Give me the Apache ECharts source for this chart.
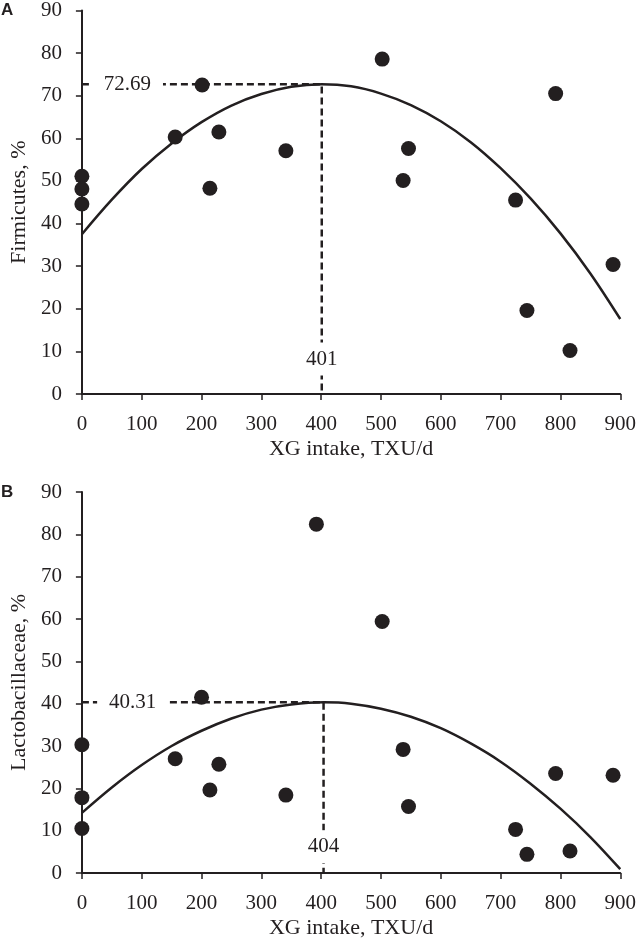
<!DOCTYPE html>
<html><head><meta charset="utf-8">
<script src="https://cdn.jsdelivr.net/npm/echarts@6/dist/echarts.min.js"></script>
<style>html,body{margin:0;padding:0;background:#fff}#c{width:639px;height:940px}</style>
</head><body><div id="c"></div>
<script>
// ---- data ----
const xTicks = [0,100,200,300,400,500,600,700,800,900];
const yTicks = [0,10,20,30,40,50,60,70,80,90];

// Panel A: Firmicutes
const intakeA = [0,0,0,156,201,214,229,341,502,537,546,725,744,792,816,888];
const firmicutes = [51.1,48.1,44.6,60.3,72.5,48.3,61.5,57.1,78.6,50.1,57.6,45.5,19.6,70.5,10.2,30.4];
const fitXA = [0,50,100,150,200,250,300,350,401,450,500,550,600,650,700,750,800,850,900];
const fitYA = [37.5,45.6,52.8,58.8,63.8,67.7,70.4,72.1,72.69,72.2,70.5,67.8,64.0,59.1,53.0,45.9,37.7,28.3,17.6];
const optA = {x: 401, y: 72.69};

// Panel B: Lactobacillaceae
const intakeB = [0,0,0,156,200,214,229,341,392,502,537,546,725,744,792,816,888];
const lactobac = [30.3,17.8,10.5,27.0,41.5,19.6,25.7,18.4,82.4,59.4,29.2,15.7,10.3,4.4,23.5,5.2,23.1];
const fitXB = [0,50,100,150,200,250,300,350,404,450,500,550,600,650,700,750,800,850,900];
const fitYB = [14.2,20.2,25.5,30.0,33.6,36.5,38.6,39.8,40.31,40.0,38.8,36.9,34.2,30.6,26.3,21.1,15.2,8.5,0.9];
const optB = {x: 404, y: 40.31};

const panelLetters = ['A','B'];
const yNames = ['Firmicutes, %','Lactobacillaceae, %'];
const xName = 'XG intake, TXU/d';

// ---- style ----
const INK = '#231f20';
const FONT = 'Liberation Serif';
const FS = 21;
const NFS = 22;
const zip = (a,b) => a.map((v,i)=>[v,b[i]]);

function xAxis(gi){
  return {
    type:'value', gridIndex:gi, min:xTicks[0], max:xTicks[xTicks.length-1], interval:xTicks[1]-xTicks[0],
    name:xName, nameLocation:'middle', nameGap:44,
    nameTextStyle:{fontFamily:FONT,fontSize:NFS,color:INK},
    axisLine:{show:true,onZero:false,lineStyle:{color:INK,width:2}},
    axisTick:{show:true,length:6,lineStyle:{color:INK,width:1.5}},
    axisLabel:{fontFamily:FONT,fontSize:FS,color:INK,margin:20},
    splitLine:{show:false}
  };
}
function yAxis(gi){
  return {
    type:'value', gridIndex:gi, min:yTicks[0], max:yTicks[yTicks.length-1], interval:yTicks[1]-yTicks[0],
    name:yNames[gi], nameLocation:'middle', nameGap:45, nameRotate:90,
    nameTextStyle:{fontFamily:FONT,fontSize:NFS,color:INK},
    axisLine:{show:true,onZero:false,lineStyle:{color:INK,width:2}},
    axisTick:{show:true,length:6,lineStyle:{color:INK,width:1.5}},
    axisLabel:{fontFamily:FONT,fontSize:FS,color:INK,margin:20},
    splitLine:{show:false}
  };
}
function labelSeries(gi, pts){
  return {
    type:'scatter', xAxisIndex:gi, yAxisIndex:gi, symbol:'rect', symbolSize:1, z:5,
    itemStyle:{color:'rgba(0,0,0,0)', opacity:1}, silent:true,
    data: pts.map(p=>({value:[p[0],p[1]], label:{show:true,position:'inside',formatter:p[2],
      fontFamily:FONT,fontSize:FS,color:INK,backgroundColor:'#fff',padding:p[3]}}))
  };
}
function panelSeries(gi, xs, ys, fx, fy, opt, hLabelX, vLabelY){
  return [
    {type:'line', xAxisIndex:gi, yAxisIndex:gi, data:zip(fx,fy), symbol:'none', smooth:0.35,
     lineStyle:{color:INK,width:2.5}, z:2, silent:true},
    {type:'line', xAxisIndex:gi, yAxisIndex:gi, data:[[0,opt.y],[opt.x,opt.y],[opt.x,0]], symbol:'none',
     lineStyle:{color:INK,width:2.5,type:[7,4]}, z:3, silent:true},
    labelSeries(gi, [[hLabelX,opt.y,opt.y.toFixed(2),[2,12]],[opt.x,vLabelY,String(opt.x),[6,2]]]),
    {type:'scatter', xAxisIndex:gi, yAxisIndex:gi, data:zip(xs,ys), symbol:'circle', symbolSize:15,
     itemStyle:{color:INK, opacity:1}, z:6}
  ];
}

const chart = echarts.init(document.getElementById('c'), null, {renderer:'canvas'});
chart.setOption({
  animation:false,
  backgroundColor:'#fff',
  grid:[
    {left:77, top:9, width:546, height:385},
    {left:77, top:492, width:546, height:385}
  ],
  xAxis:[xAxis(0), xAxis(1)],
  yAxis:[yAxis(0), yAxis(1)],
  graphic:[
    {type:'text', left:1, top:2, style:{text:panelLetters[0], font:'bold 17px "Liberation Sans"', fill:INK}},
    {type:'text', left:1, top:484, style:{text:panelLetters[1], font:'bold 17px "Liberation Sans"', fill:INK}}
  ],
  series:[
    ...panelSeries(0, intakeA, firmicutes, fitXA, fitYA, optA, 76, 8.2),
    ...panelSeries(1, intakeB, lactobac, fitXB, fitYB, optB, 85, 6.2)
  ]
});
</script>
</body></html>
